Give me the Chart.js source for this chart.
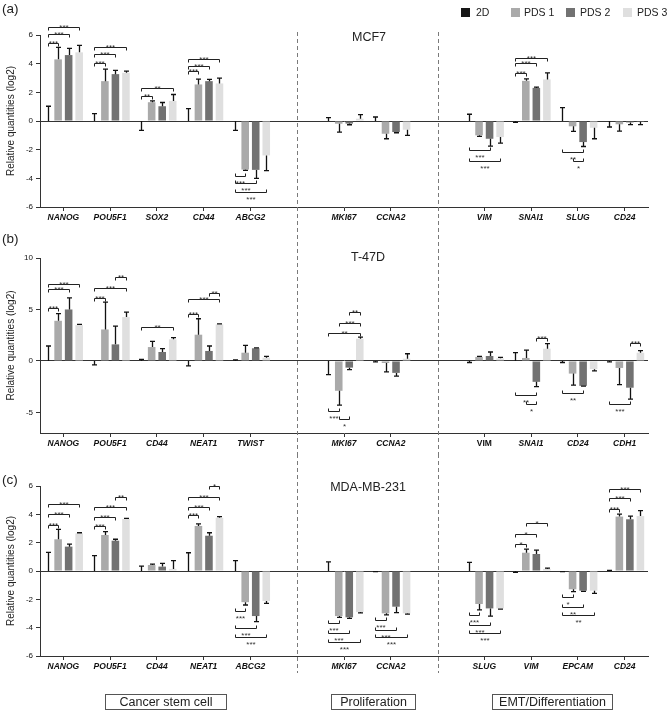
<!DOCTYPE html>
<html><head><meta charset="utf-8">
<script src="https://cdn.jsdelivr.net/npm/chart.js@4.4.1/dist/chart.umd.min.js"></script>
<style>
html,body{margin:0;padding:0;background:#fff;}
#wrap{position:relative;width:667px;height:711px;overflow:hidden;font-family:"Liberation Sans",Arial,sans-serif;color:#222;}
canvas{position:absolute;left:0;}
.lbl{position:absolute;font-size:13.5px;line-height:1;white-space:nowrap;transform:translateY(-50%);}
.ttl{position:absolute;font-size:12.5px;line-height:1;white-space:nowrap;transform:translate(-50%,-50%);}
.box{position:absolute;border:1px solid #555;font-size:12.5px;text-align:center;box-sizing:border-box;line-height:14px;height:16px;}
</style></head><body>
<div id="wrap">
<canvas id="cA" width="667" height="228" style="top:0;width:667px;height:228px"></canvas>
<canvas id="cB" width="667" height="226" style="top:228px;width:667px;height:226px"></canvas>
<canvas id="cC" width="667" height="257" style="top:454px;width:667px;height:257px"></canvas>
<div class="lbl" style="left:2px;top:9px">(a)</div>
<div class="lbl" style="left:2px;top:239px">(b)</div>
<div class="lbl" style="left:2px;top:480px">(c)</div>
<div class="ttl" style="left:369px;top:37px">MCF7</div>
<div class="ttl" style="left:368px;top:257px">T-47D</div>
<div class="ttl" style="left:368px;top:487px">MDA-MB-231</div>
<div class="box" style="left:105px;top:694px;width:122px">Cancer stem cell</div>
<div class="box" style="left:331px;top:694px;width:85px">Proliferation</div>
<div class="box" style="left:492px;top:694px;width:121px">EMT/Differentiation</div>
</div>
<script>
// ---------- DATA ----------
const seriesNames = ['2D', 'PDS 1', 'PDS 2', 'PDS 3'];
const seriesColors = ['#161616', '#aaaaaa', '#727272', '#dfdfdf'];

// Panel (a) MCF7
const catsA = ['NANOG','POU5F1','SOX2','CD44','ABCG2','','MKI67','CCNA2','','VIM','SNAI1','SLUG','CD24'];
const d2A   = [0, 0, 0, 0, 0, null, 0, 0, null, 0, 0, 0, 0];
const e2A   = [1.03, 0.51, -0.65, 0.86, -0.65, null, 0.23, 0.28, null, 0.47, -0.1, 0.93, -0.42];
const p1A   = [4.3, 2.78, 1.31, 2.55, -3.39, null, -0.19, -0.89, null, -1.0, 2.8, -0.37, -0.23];
const e1A   = [0.84, 0.84, 0.09, 0.37, -0.05, null, -0.58, -0.35, null, -0.07, 0.14, -0.35, -0.47];
const p2A   = [4.6, 3.27, 1.03, 2.78, -3.41, null, -0.18, -0.77, null, -1.24, 2.31, -1.47, -0.1];
const e2pA  = [0.47, 0.26, 0.26, 0.12, -0.59, null, -0.08, -0.05, null, -0.51, 0.05, -0.31, -0.15];
const p3A   = [4.79, 3.36, 1.40, 2.62, -2.4, null, 0.16, -0.61, null, -1.12, 2.9, -0.47, -0.05];
const e3A   = [0.49, 0.12, 0.45, 0.37, -1.06, null, 0.28, -0.39, null, -0.42, 0.46, -0.77, -0.2];
// [category, from series, to series, level (log2), label]
const sigA = [
  [0,0,1,5.47,'***'],[0,0,2,6.05,'***'],[0,0,3,6.59,'***'],
  [1,0,1,4.02,'***'],[1,0,2,4.67,'***'],[1,0,3,5.19,'***'],
  [2,0,1,1.73,'**'],[2,0,3,2.27,'**'],
  [3,0,1,3.5,'***'],[3,0,2,3.86,'***'],[3,0,3,4.32,'***'],
  [4,0,1,-3.86,'***'],[4,0,2,-4.3,'***'],[4,0,3,-4.93,'***'],
  [9,0,2,-1.99,'***'],[9,0,3,-2.8,'***'],
  [10,0,1,3.36,'***'],[10,0,2,4.02,'***'],[10,0,3,4.42,'***'],
  [11,0,2,-2.17,'**'],[11,1,2,-2.8,'*']
];

// Panel (b) T-47D
const catsB = ['NANOG','POU5F1','CD44','NEAT1','TWIST','','MKI67','CCNA2','','VIM','SNAI1','CD24','CDH1'];
const d2B   = [0, 0, 0, 0, 0, null, 0, 0, null, 0, 0, 0, 0];
const e2B   = [1.45, -0.39, 0.16, -0.48, 0.1, null, -1.32, -0.1, null, -0.15, 0.8, -0.15, -0.1];
const p1B   = [3.9, 3.06, 1.35, 2.55, 0.8, null, -2.9, -0.2, null, 0.39, 0.29, -1.23, -0.68];
const e1B   = [0.7, 2.65, 0.55, 1.55, 0.72, null, -1.4, -0.86, null, 0.06, 0.77, -1.12, -1.62];
const p2B   = [5.0, 1.61, 0.87, 0.97, 1.23, null, -0.65, -1.16, null, 0.48, -2.03, -2.42, -2.6];
const e2pB  = [1.13, 1.78, 0.32, 0.48, 0.03, null, -0.19, -0.32, null, 0.39, -0.47, -0.03, -1.1];
const p3B   = [3.48, 4.26, 2.1, 3.55, 0.32, null, 2.16, 0.22, null, 0.25, 1.19, -0.8, 0.8];
const e3B   = [0.07, 0.48, 0.16, 0.05, 0.13, null, 0.16, 0.48, null, 0.1, 0.49, -0.17, 0.2];
const sigB = [
  [0,0,1,5.13,'***'],[0,0,2,6.94,'***'],[0,0,3,7.52,'***'],
  [1,0,1,6.13,'***'],[1,0,3,7.1,'***'],[1,2,3,8.16,'**'],
  [2,0,3,3.29,'**'],
  [3,0,1,4.52,'***'],[3,0,3,6.0,'***'],[3,2,3,6.6,'**'],
  [6,0,3,2.74,'**'],[6,1,3,3.7,'***'],[6,2,3,4.77,'**'],
  [6,0,1,-4.85,'***'],[6,1,2,-5.65,'*'],
  [10,2,3,2.23,'***'],[10,0,2,-3.26,'**'],[10,1,2,-4.2,'*'],
  [11,0,2,-3.16,'**'],
  [12,2,3,1.7,'***'],[12,0,2,-4.2,'***']
];

// Panel (c) MDA-MB-231
const catsC = ['NANOG','POU5F1','CD44','NEAT1','ABCG2','','MKI67','CCNA2','','SLUG','VIM','EPCAM','CD24'];
const d2C   = [0, 0, 0, 0, 0, null, 0, 0, null, 0, 0, 0, 0];
const e2C   = [1.32, 1.08, 0.35, 1.29, 0.73, null, 0.64, -0.05, null, 0.61, -0.1, -0.05, 0.05];
const p1C   = [2.24, 2.54, 0.42, 3.18, -2.2, null, -3.18, -2.99, null, -2.33, 1.29, -1.29, 3.84];
const e1C   = [0.7, 0.24, 0.07, 0.14, -0.2, null, -0.09, -0.11, null, -0.42, 0.26, -0.17, 0.18];
const p2C   = [1.72, 2.14, 0.31, 2.49, -3.18, null, -3.27, -2.52, null, -2.64, 1.2, -1.39, 3.65];
const e2pC  = [0.18, 0.1, 0.23, 0.21, -0.4, null, -0.07, -0.42, null, -0.54, 0.28, -0.05, 0.23];
const p3C   = [2.66, 3.67, 0.15, 3.76, -2.12, null, -2.9, -2.99, null, -2.64, 0.15, -1.39, 3.88];
const e3C   = [0.04, 0.05, 0.58, 0.08, -0.16, null, -0.05, -0.05, null, -0.05, 0.05, -0.19, 0.38];
const sigC = [
  [0,0,1,3.25,'***'],[0,0,2,4.02,'***'],[0,0,3,4.7,'***'],
  [1,0,1,3.2,'***'],[1,0,2,3.84,'***'],[1,0,3,4.54,'***'],[1,2,3,5.25,'**'],
  [3,0,1,3.95,'***'],[3,0,2,4.54,'***'],[3,0,3,5.25,'***'],[3,2,3,6.02,'*'],
  [4,0,1,-2.82,'***'],[4,0,2,-4.05,'***'],[4,0,3,-4.64,'***'],
  [6,0,1,-3.7,'***'],[6,0,2,-4.4,'***'],[6,0,3,-5.0,'***'],
  [7,0,1,-3.46,'***'],[7,0,2,-4.16,'***'],[7,0,3,-4.68,'***'],
  [9,0,1,-3.1,'***'],[9,0,2,-3.81,'***'],[9,0,3,-4.35,'***'],
  [10,0,1,1.9,'*'],[10,0,2,2.59,'*'],[10,1,3,3.41,'*'],
  [11,0,1,-1.86,'*'],[11,0,2,-2.52,'**'],[11,0,3,-3.1,'**'],
  [12,0,1,4.38,'***'],[12,0,2,5.13,'***'],[12,0,3,5.81,'***']
];

const yTitle = 'Relative quantities (log2)';

// ---------- DRAWING ----------
const FONT = '"Liberation Sans", Arial, sans-serif';

const errorPlugin = {
  id: 'errbars',
  afterDatasetsDraw(chart) {
    const ctx = chart.ctx, ys = chart.scales.y;
    ctx.save();
    ctx.strokeStyle = '#111'; ctx.lineWidth = 1.3;
    chart.data.datasets.forEach((ds, i) => {
      const meta = chart.getDatasetMeta(i);
      ds.errors.forEach((e, j) => {
        if (e === null || ds.data[j] === null) return;
        const el = meta.data[j];
        const x = Math.round(el.x) + 0.5;
        const y0 = ys.getPixelForValue(ds.data[j]);
        const y1 = ys.getPixelForValue(ds.data[j] + e);
        ctx.beginPath();
        ctx.moveTo(x, y0); ctx.lineTo(x, y1);
        ctx.moveTo(x - 2.5, y1); ctx.lineTo(x + 2.5, y1);
        ctx.stroke();
      });
    });
    ctx.restore();
  }
};

const bracketPlugin = {
  id: 'brackets',
  afterDatasetsDraw(chart, args, opts) {
    const ctx = chart.ctx, ys = chart.scales.y;
    ctx.save();
    ctx.strokeStyle = '#222'; ctx.fillStyle = '#333'; ctx.lineWidth = 1;
    ctx.font = '8px ' + FONT; ctx.textAlign = 'center'; ctx.textBaseline = 'alphabetic';
    (opts.list || []).forEach(b => {
      const xa = Math.round(chart.getDatasetMeta(b[1]).data[b[0]].x) + 0.5;
      const xb = Math.round(chart.getDatasetMeta(b[2]).data[b[0]].x) + 0.5;
      const y = Math.round(ys.getPixelForValue(b[3])) + 0.5;
      const up = b[3] > 0;
      const d = up ? 3 : -3;
      ctx.beginPath();
      ctx.moveTo(xa, y + d); ctx.lineTo(xa, y); ctx.lineTo(xb, y); ctx.lineTo(xb, y + d);
      ctx.stroke();
      ctx.fillText(b[4], (xa + xb) / 2, up ? y + 2 : y + 9.5);
    });
    ctx.restore();
  }
};

const dashPlugin = {
  id: 'dashes',
  afterDraw(chart, args, opts) {
    const ctx = chart.ctx, xs = chart.scales.x;
    ctx.save();
    ctx.strokeStyle = '#7a7a7a'; ctx.lineWidth = 1; ctx.setLineDash([4, 3]);
    chart.data.labels.forEach((l, i) => {
      if (l !== '') return;
      const x = Math.round(xs.getPixelForValue(i)) + 0.5;
      ctx.beginPath(); ctx.moveTo(x, opts.y0); ctx.lineTo(x, opts.y1); ctx.stroke();
    });
    ctx.restore();
  }
};

const legendPlugin = {
  id: 'miniLegend',
  afterDraw(chart, args, opts) {
    if (!opts.show) return;
    const ctx = chart.ctx;
    const boxX = [461, 511, 566, 623];
    const textX = [476, 524, 580, 637];
    ctx.save();
    ctx.font = '10.5px ' + FONT; ctx.textBaseline = 'middle';
    chart.data.datasets.forEach((ds, i) => {
      ctx.fillStyle = ds.backgroundColor;
      ctx.fillRect(boxX[i], 8, 9, 9);
      ctx.fillStyle = '#222';
      ctx.fillText(ds.label, textX[i], 13);
    });
    ctx.restore();
  }
};

function makePanel(id, cats, vals, errs, sig, o) {
  const datasets = seriesNames.map((n, i) => ({
    label: n, data: vals[i], errors: errs[i], backgroundColor: seriesColors[i],
    borderWidth: 0, categoryPercentage: 0.9, barPercentage: 0.72
  }));
  const axisCol = '#333';
  return new Chart(document.getElementById(id), {
    type: 'bar',
    data: { labels: cats, datasets },
    options: {
      responsive: false, animation: false, events: [],
      layout: { padding: { top: o.padTop, bottom: o.padBottom, left: 0, right: 19 } },
      plugins: {
        legend: { display: false }, tooltip: { enabled: false },
        brackets: { list: sig },
        dashes: { y0: o.dashY0, y1: o.dashY1 },
        miniLegend: { show: !!o.legend }
      },
      scales: {
        x: {
          grid: {
            offset: false, drawOnChartArea: false, drawTicks: true, tickLength: 4,
            color: c => cats[c.index] === '' ? 'rgba(0,0,0,0)' : axisCol,
            tickColor: c => cats[c.index] === '' ? 'rgba(0,0,0,0)' : axisCol
          },
          border: { display: true, color: axisCol, width: 1 },
          ticks: {
            autoSkip: false, maxRotation: 0, padding: 2, color: '#111',
            font: c => ({ family: FONT, size: 8.5, weight: 'bold',
              style: (o.upright || []).includes(c.index) ? 'normal' : 'italic' })
          },
          afterFit: s => { s.height = 21; }
        },
        y: {
          min: o.min, max: o.max,
          ticks: { stepSize: o.step, color: '#111', padding: 3, font: { family: FONT, size: 8 } },
          afterBuildTicks: s => { s.ticks = s.ticks.filter(t => Math.abs(t.value / o.step - Math.round(t.value / o.step)) < 1e-6); },
          grid: {
            drawOnChartArea: true, drawTicks: true, tickLength: 4,
            color: c => (c.tick && c.tick.value === 0) ? axisCol : 'rgba(0,0,0,0)',
            tickColor: axisCol, lineWidth: 1
          },
          border: { display: true, color: axisCol, width: 1 },
          title: { display: true, text: yTitle, color: '#222', font: { family: FONT, size: 10 }, padding: { top: 5, bottom: 0 } },
          afterFit: s => { s.width = 40; }
        }
      }
    },
    plugins: [dashPlugin, errorPlugin, bracketPlugin, legendPlugin]
  });
}

makePanel('cA', catsA, [d2A, p1A, p2A, p3A], [e2A, e1A, e2pA, e3A], sigA,
  { min: -6, max: 6, step: 2, padTop: 35, padBottom: 0, dashY0: 32, dashY1: 228, legend: true });
makePanel('cB', catsB, [d2B, p1B, p2B, p3B], [e2B, e1B, e2pB, e3B], sigB,
  { min: -7, max: 10, step: 5, padTop: 30, padBottom: 0, dashY0: 0, dashY1: 226, upright: [9] });
makePanel('cC', catsC, [d2C, p1C, p2C, p3C], [e2C, e1C, e2pC, e3C], sigC,
  { min: -6, max: 6, step: 2, padTop: 32, padBottom: 34, dashY0: 0, dashY1: 219 });
</script>
</body></html>
